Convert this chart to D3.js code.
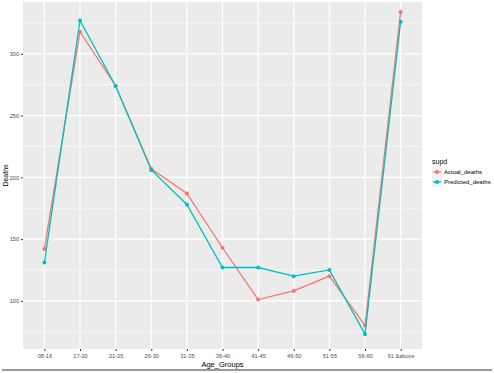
<!DOCTYPE html>
<html>
<head>
<meta charset="utf-8">
<script src="https://cdn.jsdelivr.net/npm/d3@7"></script>
<style>
  body { margin: 0; background: #fff; }
  text { font-family: "Liberation Sans", Arial, sans-serif; }
</style>
</head>
<body>
<svg id="chart" width="494" height="373"></svg>
<script>
// data
var ageGroups = ['08-16', '17-20', '21-25', '26-30', '31-35', '36-40', '41-45', '46-50', '51-55', '56-60', '61 &above'];
var actualDeaths = [142, 318, 274, 207, 187, 143, 101, 108, 120, 80, 334];
var predictedDeaths = [131, 327, 274, 206, 178, 127, 127, 120, 125, 73, 326];
var yTicks = [100, 150, 200, 250, 300];
var yMinor = [75, 125, 175, 225, 275, 325];
var seriesNames = ['Actual_deaths', 'Predicted_deaths'];
var seriesColors = ['#F8766D', '#00BFC4'];

var svg = d3.select('#chart');
var pLeft = 23, pRight = 422, pTop = 2, pBottom = 349;

var x = d3.scalePoint()
  .domain(ageGroups)
  .range([pLeft, pRight])
  .padding(0.6);

var y = d3.scaleLinear()
  .domain([61, 342])
  .range([pBottom, pTop]);

// panel
svg.append('rect')
  .attr('x', pLeft).attr('y', pTop)
  .attr('width', pRight - pLeft).attr('height', pBottom - pTop)
  .attr('fill', '#EBEBEB');

var grid = svg.append('g');
grid.selectAll('.minor')
  .data(yMinor)
  .enter().append('line')
  .attr('x1', pLeft).attr('x2', pRight)
  .attr('y1', d => y(d)).attr('y2', d => y(d))
  .attr('stroke', '#fff').attr('stroke-width', 0.6);
grid.selectAll('.major')
  .data(yTicks)
  .enter().append('line')
  .attr('x1', pLeft).attr('x2', pRight)
  .attr('y1', d => y(d)).attr('y2', d => y(d))
  .attr('stroke', '#fff').attr('stroke-width', 1.2);
grid.selectAll('.vert')
  .data(ageGroups)
  .enter().append('line')
  .attr('x1', d => x(d)).attr('x2', d => x(d))
  .attr('y1', pTop).attr('y2', pBottom)
  .attr('stroke', '#fff').attr('stroke-width', 1.2);

// axes
var yAxis = svg.append('g')
  .attr('transform', `translate(${pLeft},0)`)
  .call(d3.axisLeft(y).tickValues(yTicks).tickSize(2).tickPadding(2));
var xAxis = svg.append('g')
  .attr('transform', `translate(0,${pBottom})`)
  .call(d3.axisBottom(x).tickSize(2).tickPadding(3));
[yAxis, xAxis].forEach(function (a) {
  a.select('.domain').remove();
  a.selectAll('line').attr('stroke', '#333');
  a.selectAll('text').attr('fill', '#4D4D4D').style('font-size', '5.6px');
});

svg.append('text')
  .attr('transform', `translate(8,${(pTop + pBottom) / 2}) rotate(-90)`)
  .attr('text-anchor', 'middle')
  .style('font-size', '7px')
  .text('Deaths');
svg.append('text')
  .attr('x', (pLeft + pRight) / 2).attr('y', 367)
  .attr('text-anchor', 'middle')
  .style('font-size', '7.5px')
  .text('Age_Groups');

// series
var line = d3.line()
  .x((d, i) => x(ageGroups[i]))
  .y(d => y(d));

[actualDeaths, predictedDeaths].forEach(function (vals, s) {
  var g = svg.append('g');
  g.append('path')
    .datum(vals)
    .attr('d', line)
    .attr('fill', 'none')
    .attr('stroke', seriesColors[s])
    .attr('stroke-width', 1.3);
  g.selectAll('circle')
    .data(vals)
    .enter().append('circle')
    .attr('cx', (d, i) => x(ageGroups[i]))
    .attr('cy', d => y(d))
    .attr('r', 2)
    .attr('fill', seriesColors[s]);
});

// legend
var legend = svg.append('g').attr('transform', 'translate(432,0)');
legend.append('text')
  .attr('x', 0).attr('y', 164)
  .style('font-size', '7px')
  .text('supd');
seriesNames.forEach(function (name, i) {
  var cy = 172 + i * 10;
  legend.append('rect')
    .attr('x', 0).attr('y', cy - 5)
    .attr('width', 10).attr('height', 10)
    .attr('fill', '#F2F2F2');
  legend.append('line')
    .attr('x1', 1).attr('x2', 9)
    .attr('y1', cy).attr('y2', cy)
    .attr('stroke', seriesColors[i]).attr('stroke-width', 1.3);
  legend.append('circle')
    .attr('cx', 5).attr('cy', cy).attr('r', 2)
    .attr('fill', seriesColors[i]);
  legend.append('text')
    .attr('x', 12).attr('y', cy + 2)
    .style('font-size', '6px')
    .text(name);
});

// frame line at the bottom of the picture
svg.append('line')
  .attr('x1', 2).attr('x2', 492)
  .attr('y1', 370).attr('y2', 370)
  .attr('stroke', '#777').attr('stroke-width', 1.5);
</script>
</body>
</html>
